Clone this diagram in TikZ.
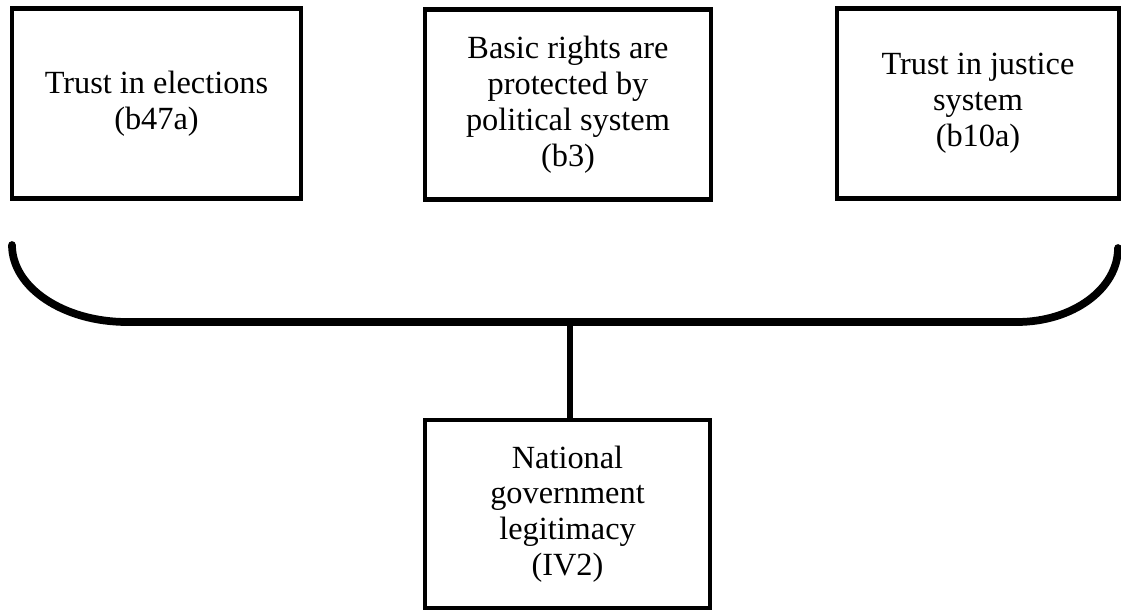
\documentclass[tikz,border=0pt]{standalone}
\usepackage{fontspec}
\setmainfont{Liberation Serif}
\usepackage{tikz}
\usetikzlibrary{positioning, calc}

\tikzset{
    box/.style={draw=black, line width=2.6pt, fill=white, align=center,
        minimum height=3.8cm, inner sep=2pt,
        font=\fontsize{18.4}{20.4}\selectfont},
    brace/.style={line width=4.4pt, line cap=round},
    link/.style={line width=3.4pt}
}

\begin{document}
\begin{tikzpicture}
    \useasboundingbox (0,0) rectangle (22.42,12.26);

    % Indicators
    \node[box, minimum width=5.78cm] (elect) at (3.13, 10.19) {Trust in elections\\(b47a)};
    \node[box, minimum width=5.72cm] (rights) at (11.36, 10.17) {Basic rights are\\protected by\\political system\\(b3)};
    \node[box, minimum width=5.64cm] (justice) at (19.56, 10.19) {Trust in justice\\system\\(b10a)};

    % Latent variable
    \node[box, minimum width=5.7cm, minimum height=3.76cm] (legit) at (11.35, 1.98) {National\\government\\legitimacy\\(IV2)};

    % Brace
    \draw[brace] (0.24, 7.36) .. controls (0.24, 6.51) and (1.27, 5.82) .. (2.54, 5.82)
        -- (20.34, 5.82) .. controls (21.45, 5.82) and (22.36, 6.48) .. (22.36, 7.30);
    \coordinate (hub) at (11.40, 5.82);

    % Link
    \draw[link] (hub) -- (hub |- legit.north);
\end{tikzpicture}
\end{document}
